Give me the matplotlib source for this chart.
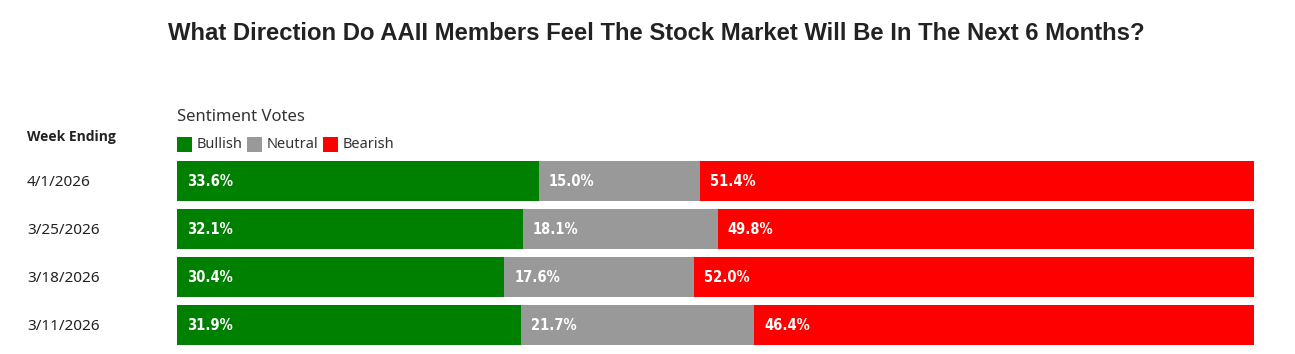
import matplotlib
matplotlib.use('Agg')
import matplotlib.pyplot as plt
from matplotlib.patches import Rectangle

weeks = ['4/1/2026', '3/25/2026', '3/18/2026', '3/11/2026']
bullish = [33.6, 32.1, 30.4, 31.9]
neutral = [15.0, 18.1, 17.6, 21.7]
bearish = [51.4, 49.8, 52.0, 46.4]
series_names = ['Bullish', 'Neutral', 'Bearish']
series_colors = ['#008000', '#999999', '#ff0000']

W, H = 1295, 354
fig = plt.figure(figsize=(W / 100, H / 100), dpi=100)


def fx(px):
    return px / W


def fy(py):
    return 1 - py / H


# plot area in pixels: x 177..1254, y 157..349
ax = fig.add_axes([fx(177), fy(349), (1254 - 177) / W, 192 / H])
ax.set_xlim(0, 100)
ax.set_ylim(3.5, -0.5)
ax.axis('off')

bar_h = 40 / 48
left = [0.0] * len(weeks)
for vals, color in zip([bullish, neutral, bearish], series_colors):
    ax.barh(range(len(weeks)), vals, left=left, height=bar_h, color=color,
            linewidth=0)
    for i, v in enumerate(vals):
        ax.annotate('%.1f%%' % v, xy=(left[i], i), xytext=(10, 0),
                    textcoords='offset pixels', va='center', ha='left',
                    color='white', fontsize=10.5, fontweight='bold',
                    family='DejaVu Sans', fontstretch='condensed')
    left = [l + v for l, v in zip(left, vals)]

# week labels
for i, w in enumerate(weeks):
    fig.text(fx(27), fy(182 + 48 * i), w, ha='left', va='center',
             fontsize=11, color='#222222', family='Noto Sans')

fig.text(fx(27), fy(137), 'Week Ending', ha='left', va='center',
         fontsize=10, fontweight='bold', color='#222222', family='Open Sans')

fig.text(fx(656), fy(33), 'What Direction Do AAII Members Feel The Stock '
         'Market Will Be In The Next 6 Months?', ha='center', va='center',
         fontsize=17.2, fontweight='bold', color='#222222',
         family='Liberation Sans')

fig.text(fx(177), fy(117), 'Sentiment Votes', ha='left', va='center',
         fontsize=12, color='#333333', family='Noto Sans')

# legend
lx = 177
for name, color in zip(series_names, series_colors):
    fig.patches.append(Rectangle((fx(lx), fy(152)), 15 / W, 15 / H,
                                 transform=fig.transFigure, color=color,
                                 linewidth=0))
    t = fig.text(fx(lx + 20), fy(144), name, ha='left', va='center',
                 fontsize=10.5, color='#333333', family='Noto Sans')
    fig.canvas.draw()
    bb = t.get_window_extent()
    lx = bb.x1 + 4

fig.savefig('out.png', dpi=100)
